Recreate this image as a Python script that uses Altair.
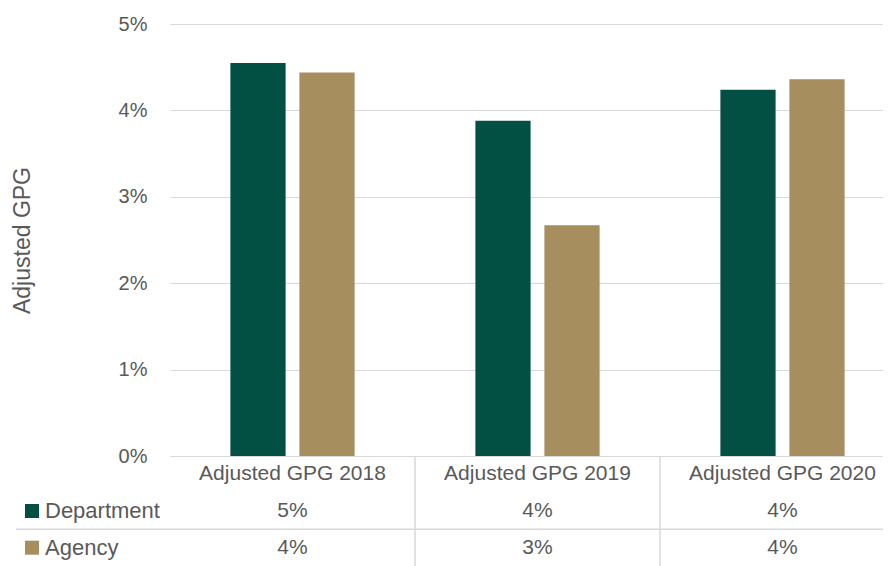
import altair as alt
import pandas as pd

categories = ["Adjusted GPG 2018", "Adjusted GPG 2019", "Adjusted GPG 2020"]
series = ["Department", "Agency"]
department = [0.0455, 0.0388, 0.0424]
agency = [0.0444, 0.0267, 0.0436]
colors = ["#024F43", "#A68E5E"]
y_ticks = [0, 0.01, 0.02, 0.03, 0.04, 0.05]
table_rows = ["header", "Department", "Agency"]

rows = []
for c, d, a in zip(categories, department, agency):
    rows.append({"category": c, "row": "Department", "value": d})
    rows.append({"category": c, "row": "Agency", "value": a})
df = pd.DataFrame(rows)
hdr = pd.DataFrame({"category": categories, "row": ["header"] * len(categories)})
leg = pd.DataFrame({"row": series})
divs = pd.DataFrame({"category": categories[1:]})
hline = pd.DataFrame({"row": ["Agency"]})

FONT = "Liberation Sans"
GREY = "#595959"
GRID = "#D9D9D9"
W = 713          # visible plot width (chart is cut at the right edge like the original)
XR = 735         # full width of the three category bands
PH = 432         # bar plot height
H = 542          # plot + table height

xscale = alt.Scale(domain=categories, range=[0, XR], paddingInner=0, paddingOuter=0)
color = alt.Color("row:N", scale=alt.Scale(domain=series, range=colors), legend=None)

bars = alt.Chart(df).mark_bar().encode(
    x=alt.X("category:N", scale=xscale, axis=None),
    xOffset=alt.XOffset("row:N", scale=alt.Scale(domain=series, paddingInner=0.2, paddingOuter=0.875)),
    y=alt.Y("value:Q", scale=alt.Scale(domain=[0, 0.05], nice=False, range=[PH, 0]),
            axis=alt.Axis(values=y_ticks, format=".0%", title="Adjusted GPG", grid=True,
                          gridColor=GRID, domain=False, ticks=False, labelFontSize=20,
                          labelColor=GREY, labelPadding=23, titleFontSize=23,
                          titleColor=GREY, titleFontWeight="normal", titlePadding=84)),
    color=color,
)

yscale_t = alt.Scale(domain=table_rows, range=[PH, H], paddingInner=0, paddingOuter=0)
xt = alt.X("category:N", scale=xscale, axis=None)
yt = alt.Y("row:N", scale=yscale_t, axis=None)

header = alt.Chart(hdr).mark_text(fontSize=21, color=GREY).encode(x=xt, y=yt, text="category:N")
values = alt.Chart(df).mark_text(fontSize=21, color=GREY).encode(
    x=xt, y=yt, text=alt.Text("value:Q", format=".0%"))
squares = alt.Chart(leg).mark_square(size=196, opacity=1, filled=True).encode(
    x=alt.value(-138), y=yt, color=color)
leg_text = alt.Chart(leg).mark_text(align="left", fontSize=22, color=GREY).encode(
    x=alt.value(-125), y=yt, text="row:N")
vrules = alt.Chart(divs).mark_rule(color=GRID, strokeWidth=1.5).encode(
    x=alt.X("category:N", scale=xscale, axis=None, bandPosition=0),
    y=alt.value(PH), y2=alt.value(H))
hrule = alt.Chart(hline).mark_rule(color=GRID, strokeWidth=1.5).encode(
    y=alt.Y("row:N", scale=yscale_t, axis=None, bandPosition=0),
    x=alt.value(-154), x2=alt.value(W))

chart = alt.layer(bars, vrules, hrule, header, values, squares, leg_text).resolve_scale(
    y="independent"
).properties(
    width=W, height=H,
    autosize=alt.AutoSizeParams(type="none"),
    padding={"left": 162, "top": 16, "right": 0, "bottom": 0},
).configure(font=FONT).configure_view(stroke=None)

chart.save("out.html", embed_options={"renderer": "svg", "actions": False})
